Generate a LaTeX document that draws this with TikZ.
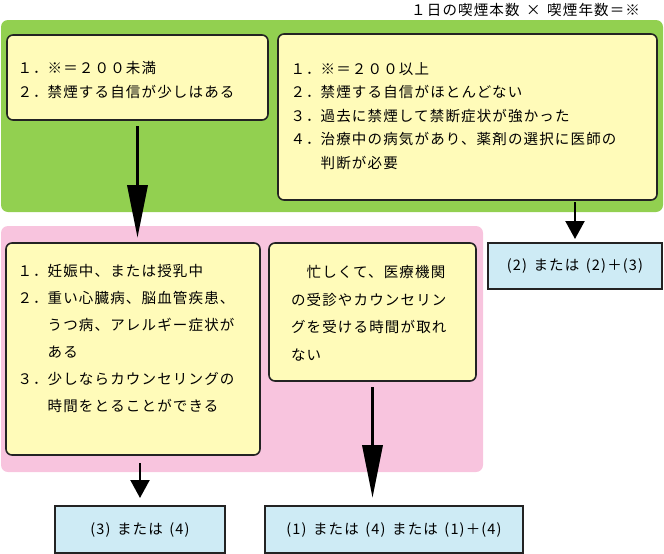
\documentclass[tikz,border=0pt]{standalone}
\usepackage{fontspec}
\newfontfamily\jpfont[LetterSpace=8]{Noto Sans CJK JP}
\usepackage{xcolor}
\definecolor{panelgreen}{RGB}{146,208,80}
\definecolor{panelpink}{RGB}{248,196,222}
\definecolor{condyellow}{RGB}{255,251,185}
\definecolor{resultblue}{RGB}{206,235,245}
\definecolor{boxline}{RGB}{35,35,35}
\usepackage{tikz}
\usetikzlibrary{arrows.meta}
\usetikzlibrary{positioning}
\newcommand{\jpsize}[1]{\jpfont\fontsize{14.5}{#1}\selectfont}
\newcommand{\gap}{\hspace{.45em}}
\tikzset{
    panel/.style={rounded corners=7pt},
    common/.style={draw=boxline, rectangle, inner sep=0pt, outer sep=0pt},
    cond/.style={common, fill=condyellow, line width=1.6pt, rounded corners=6pt},
    result/.style={common, fill=resultblue, line width=2pt, font=\jpsize{20}},
    txt/.style={inner sep=0pt, outer sep=0pt, text=black},
    bigarrow/.style={-{Triangle[length=53pt, width=20pt]}, line width=3.5pt},
    smallarrow/.style={-{Triangle[length=18pt, width=19pt]}, line width=2.2pt}
}

\begin{document}
\begin{tikzpicture}[x=1pt, y=-1pt]
      \useasboundingbox (0,0) rectangle (664,554);

      % panels
      \fill[panelgreen, panel] (1,20) rectangle (663,212);
      \fill[panelpink, panel] (1,226) rectangle (483,472);

      \node[txt, anchor=base east, font=\jpsize{20}] (formula) at (640,15.5) {１日の喫煙本数\gap{}×\gap{}喫煙年数＝※};

      % conditions
      \node[cond, minimum width=261pt, minimum height=85pt] (cond-low) at (137.5,77.5) {};
      \node[cond, minimum width=379pt, minimum height=166pt] (cond-high) at (467.5,117) {};
      \node[cond, minimum width=254pt, minimum height=212pt] (cond-ok) at (133,349) {};
      \node[cond, minimum width=207pt, minimum height=138pt] (cond-busy) at (372.5,312) {};

      \node[txt, font=\jpsize{24}, below right=21.7pt and 10.5pt of cond-low.north west] (cond-low-text) {%
        \begin{tabular}{@{}l@{}l@{}}
          １．&※＝２００未満\\
          ２．&禁煙する自信が少しはある
        \end{tabular}};
      \node[txt, font=\jpsize{23.5}, below right=24pt and 12.5pt of cond-high.north west] (cond-high-text) {%
        \begin{tabular}{@{}l@{}l@{}}
          １．&※＝２００以上\\
          ２．&禁煙する自信がほとんどない\\
          ３．&過去に禁煙して禁断症状が強かった\\
          ４．&治療中の病気があり、薬剤の選択に医師の\\
              &判断が必要
        \end{tabular}};
      \node[txt, font=\jpsize{27}, below right=14.6pt and 11.5pt of cond-ok.north west] (cond-ok-text) {%
        \begin{tabular}{@{}l@{}l@{}}
          １．&妊娠中、または授乳中\\
          ２．&重い心臓病、脳血管疾患、\\
              &うつ病、アレルギー症状が\\
              &ある\\
          ３．&少しならカウンセリングの\\
              &時間をとることができる
        \end{tabular}};
      \node[txt, font=\jpsize{27.5}, below right=15.3pt and 22pt of cond-busy.north west] (cond-busy-text) {%
        \begin{tabular}{@{}l@{}}
          　忙しくて、医療機関\\
          の受診やカウンセリン\\
          グを受ける時間が取れ\\
          ない
        \end{tabular}};

      % results
      \node[result, minimum width=174pt, minimum height=46pt] (res-a) at (575,266) {(2)\gap{}または\gap{}(2)＋(3)};
      \node[result, minimum width=170pt, minimum height=47pt] (res-b) at (140,529.5) {(3)\gap{}または\gap{}(4)};
      \node[result, minimum width=258pt, minimum height=47pt] (res-c) at (394,529.5) {(1)\gap{}または\gap{}(4)\gap{}または\gap{}(1)＋(4)};

      \draw[bigarrow, shorten <=6pt, shorten >=5pt] (cond-low.south) -- (cond-low.south |- cond-ok.north);
      \draw[smallarrow, shorten <=2pt, shorten >=4pt] (res-a.north |- cond-high.south) -- (res-a.north);
      \draw[smallarrow, shorten <=8pt, shorten >=8pt] (res-b.north |- cond-ok.south) -- (res-b.north);
      \draw[bigarrow, shorten <=6pt, shorten >=8pt] (cond-busy.south) -- (cond-busy.south |- res-c.north);
    \end{tikzpicture}
\end{document}
